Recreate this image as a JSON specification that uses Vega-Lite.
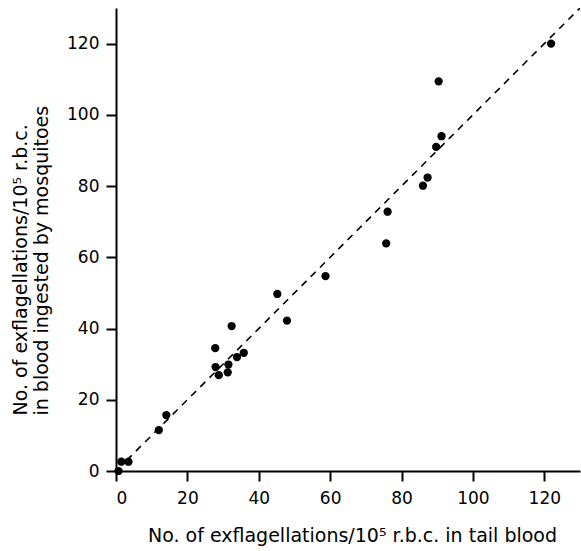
{
  "$schema": "https://vega.github.io/schema/vega-lite/v6.json",
  "autosize": "none",
  "width": 464,
  "height": 463,
  "padding": {"left": 116, "top": 8, "right": 1, "bottom": 80},
  "background": "white",
  "config": {
    "view": {"stroke": null},
    "axis": {
      "grid": false,
      "labelFont": "DejaVu Sans",
      "labelFontSize": 17,
      "labelColor": "black",
      "domainColor": "black",
      "domainWidth": 2,
      "tickColor": "black",
      "tickWidth": 2,
      "tickSize": 10,
      "titleFont": "DejaVu Sans",
      "titleFontSize": 19,
      "titleFontWeight": "normal",
      "titleColor": "black"
    }
  },
  "datasets": {
    "points": [
      {"tail": 121.9, "ingested": 120.0},
      {"tail": 90.4, "ingested": 109.4},
      {"tail": 91.2, "ingested": 94.0},
      {"tail": 89.7, "ingested": 91.0},
      {"tail": 87.3, "ingested": 82.4},
      {"tail": 86.0, "ingested": 80.1},
      {"tail": 76.1, "ingested": 72.8},
      {"tail": 75.7, "ingested": 63.9},
      {"tail": 58.7, "ingested": 54.7},
      {"tail": 45.2, "ingested": 49.7},
      {"tail": 47.9, "ingested": 42.2},
      {"tail": 32.4, "ingested": 40.7},
      {"tail": 27.8, "ingested": 34.5},
      {"tail": 35.8, "ingested": 33.2},
      {"tail": 33.9, "ingested": 32.0},
      {"tail": 27.9, "ingested": 29.2},
      {"tail": 31.5, "ingested": 29.9},
      {"tail": 28.8, "ingested": 26.9},
      {"tail": 31.3, "ingested": 27.7},
      {"tail": 14.1, "ingested": 15.7},
      {"tail": 12.0, "ingested": 11.5},
      {"tail": 1.5, "ingested": 2.6},
      {"tail": 3.5, "ingested": 2.6},
      {"tail": 0.7, "ingested": 0.0}
    ],
    "identity": [
      {"tail": 3, "ingested": 3},
      {"tail": 130, "ingested": 130}
    ]
  },
  "layer": [
    {
      "data": {"name": "identity"},
      "mark": {"type": "line", "color": "black", "strokeWidth": 1.6, "strokeDash": [7, 6], "clip": true},
      "encoding": {
        "x": {"field": "tail", "type": "quantitative"},
        "y": {"field": "ingested", "type": "quantitative"}
      }
    },
    {
      "data": {"name": "points"},
      "mark": {"type": "circle", "color": "black", "opacity": 1, "size": 68},
      "encoding": {
        "x": {
          "field": "tail",
          "type": "quantitative",
          "scale": {"domain": [0, 130], "nice": false},
          "axis": {
            "values": [0, 20, 40, 60, 80, 100, 120],
            "labelPadding": 9,
            "title": "No. of exflagellations/10⁵ r.b.c. in tail blood",
            "titlePadding": 20,
            "titleX": 236,
            "titleAlign": "center"
          }
        },
        "y": {
          "field": "ingested",
          "type": "quantitative",
          "scale": {"domain": [0, 130], "nice": false},
          "axis": {
            "values": [0, 20, 40, 60, 80, 100, 120],
            "labelPadding": 7,
            "title": ["No. of exflagellations/10⁵ r.b.c.", "in blood ingested by mosquitoes"],
            "titleAngle": 270,
            "titleAlign": "left",
            "titleBaseline": "top",
            "titleX": -105,
            "titleY": 407,
            "titleLineHeight": 21
          }
        }
      }
    }
  ]
}
